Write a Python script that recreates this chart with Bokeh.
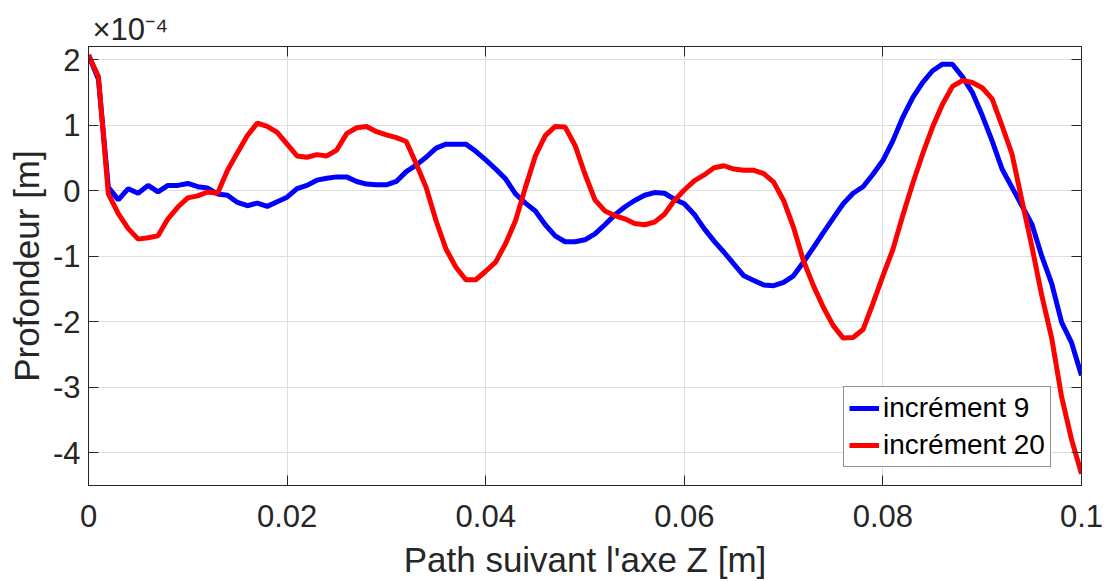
from bokeh.plotting import figure
from bokeh.models import Range1d, LinearAxis, Legend, LegendItem, Title, FixedTicker
from bokeh.embed import file_html
from bokeh.resources import INLINE

# ---- data (y values in units of 1e-4 m) ----
z = [0.000, 0.001, 0.002, 0.003, 0.004, 0.005, 0.006, 0.007, 0.008, 0.009,
     0.010, 0.011, 0.012, 0.013, 0.014, 0.015, 0.016, 0.017, 0.018, 0.019,
     0.020, 0.021, 0.022, 0.023, 0.024, 0.025, 0.026, 0.027, 0.028, 0.029,
     0.030, 0.031, 0.032, 0.033, 0.034, 0.035, 0.036, 0.037, 0.038, 0.039,
     0.040, 0.041, 0.042, 0.043, 0.044, 0.045, 0.046, 0.047, 0.048, 0.049,
     0.050, 0.051, 0.052, 0.053, 0.054, 0.055, 0.056, 0.057, 0.058, 0.059,
     0.060, 0.061, 0.062, 0.063, 0.064, 0.065, 0.066, 0.067, 0.068, 0.069,
     0.070, 0.071, 0.072, 0.073, 0.074, 0.075, 0.076, 0.077, 0.078, 0.079,
     0.080, 0.081, 0.082, 0.083, 0.084, 0.085, 0.086, 0.087, 0.088, 0.089,
     0.090, 0.091, 0.092, 0.093, 0.094, 0.095, 0.096, 0.097, 0.098, 0.099,
     0.100]

increment_9 = [2.07, 1.70, 0.05, -0.14, 0.03, -0.04, 0.08, -0.02, 0.08, 0.08,
               0.11, 0.06, 0.04, -0.05, -0.07, -0.18, -0.23, -0.19, -0.24, -0.17,
               -0.10, 0.03, 0.08, 0.16, 0.19, 0.21, 0.21, 0.14, 0.10, 0.09,
               0.09, 0.14, 0.29, 0.39, 0.51, 0.65, 0.71, 0.71, 0.71, 0.60,
               0.47, 0.33, 0.18, -0.05, -0.19, -0.31, -0.52, -0.69, -0.78, -0.78,
               -0.75, -0.66, -0.52, -0.37, -0.25, -0.15, -0.07, -0.03, -0.04, -0.13,
               -0.20, -0.36, -0.58, -0.77, -0.94, -1.12, -1.30, -1.37, -1.44, -1.45,
               -1.40, -1.30, -1.09, -0.87, -0.64, -0.42, -0.20, -0.04, 0.06, 0.25,
               0.46, 0.76, 1.12, 1.42, 1.65, 1.83, 1.93, 1.93, 1.74, 1.50,
               1.15, 0.76, 0.33, 0.05, -0.23, -0.51, -1.00, -1.42, -2.01, -2.32,
               -2.82]

increment_20 = [2.07, 1.74, -0.05, -0.35, -0.58, -0.74, -0.72, -0.69, -0.43, -0.25,
                -0.11, -0.08, -0.02, -0.04, 0.31, 0.58, 0.84, 1.03, 0.98, 0.89,
                0.71, 0.53, 0.51, 0.55, 0.53, 0.62, 0.87, 0.96, 0.98, 0.90,
                0.85, 0.81, 0.75, 0.41, 0.05, -0.46, -0.89, -1.17, -1.36, -1.36,
                -1.23, -1.09, -0.81, -0.46, 0.05, 0.53, 0.84, 0.98, 0.97, 0.69,
                0.25, -0.14, -0.31, -0.38, -0.43, -0.50, -0.52, -0.48, -0.36, -0.15,
                0.01, 0.15, 0.24, 0.35, 0.38, 0.33, 0.31, 0.31, 0.26, 0.13,
                -0.15, -0.56, -1.07, -1.45, -1.78, -2.06, -2.25, -2.24, -2.12, -1.72,
                -1.30, -0.90, -0.38, 0.11, 0.56, 0.97, 1.32, 1.59, 1.68, 1.65,
                1.57, 1.40, 0.99, 0.56, -0.15, -0.85, -1.60, -2.25, -3.15, -3.80,
                -4.32]

x_ticks = [0, 0.02, 0.04, 0.06, 0.08, 0.1]
x_tick_labels = ["0", "0.02", "0.04", "0.06", "0.08", "0.1"]
y_ticks = [-4, -3, -2, -1, 0, 1, 2]
y_tick_labels = ["-4", "-3", "-2", "-1", "0", "1", "2"]
series_names = ["incrément 9", "incrément 20"]
exponent_text = "×10⁻⁴"

FONT = "Liberation Sans"
AX = "#262626"

p = figure(width=1105, height=581, output_backend="svg", toolbar_location=None,
           x_range=Range1d(0, 0.1), y_range=Range1d(-4.5, 2.2),
           min_border_left=88, min_border_right=24, min_border_top=46, min_border_bottom=96)
p.background_fill_color = "white"
p.border_fill_color = "white"
p.outline_line_color = AX
p.outline_line_width = 1

r9 = p.line(z, increment_9, line_color="#0000ff", line_width=5)
r20 = p.line(z, increment_20, line_color="#ff0000", line_width=5)

# axes
xa = p.xaxis[0]
xa.ticker = FixedTicker(ticks=x_ticks)
xa.major_label_overrides = {t: l for t, l in zip(x_ticks, x_tick_labels)}
xa.axis_label = "Path suivant l'axe Z [m]"
ya = p.yaxis[0]
ya.ticker = FixedTicker(ticks=y_ticks)
ya.major_label_overrides = {t: l for t, l in zip(y_ticks, y_tick_labels)}
ya.axis_label = "Profondeur [m]"

for ax in (xa, ya):
    ax.axis_line_color = AX
    ax.major_tick_line_color = AX
    ax.major_tick_in = 10
    ax.major_tick_out = 0
    ax.minor_tick_line_color = None
    ax.major_label_text_font = FONT
    ax.major_label_text_font_size = "31px"
    ax.major_label_text_color = AX
    ax.axis_label_text_font = FONT
    ax.axis_label_text_font_size = "35px"
    ax.axis_label_text_font_style = "normal"
    ax.axis_label_text_color = AX
xa.major_label_standoff = 19
xa.axis_label_standoff = 10
ya.major_label_standoff = 8
ya.axis_label_standoff = 4

top = LinearAxis(ticker=FixedTicker(ticks=x_ticks))
right = LinearAxis(ticker=FixedTicker(ticks=y_ticks))
for ax in (top, right):
    ax.axis_line_color = AX
    ax.major_tick_line_color = AX
    ax.major_tick_in = 10
    ax.major_tick_out = 0
    ax.minor_tick_line_color = None
    ax.major_label_text_font_size = "1px"
    ax.major_label_text_color = None
    ax.major_label_standoff = 0
p.add_layout(top, "above")
p.add_layout(right, "right")

p.xgrid.ticker = FixedTicker(ticks=x_ticks)
p.ygrid.ticker = FixedTicker(ticks=y_ticks)
p.grid.grid_line_color = "#dedede"
p.grid.grid_line_width = 1

# exponent marker (MATLAB-style) as the title
p.title = Title(text=exponent_text, align="left", offset=4, standoff=0,
                text_font=FONT, text_font_size="31px", text_font_style="normal",
                text_color=AX)

legend = Legend(items=[LegendItem(label=series_names[0], renderers=[r9]),
                       LegendItem(label=series_names[1], renderers=[r20])],
                location=(755, 18))
legend.label_text_font = FONT
legend.label_text_font_size = "28px"
legend.label_text_color = "black"
legend.border_line_color = AX
legend.border_line_width = 1
legend.background_fill_color = "white"
legend.background_fill_alpha = 1
legend.padding = 5
legend.spacing = 5
legend.glyph_width = 30
legend.glyph_height = 30
legend.label_height = 30
legend.label_standoff = 4
legend.margin = 0
p.add_layout(legend, "center")

open("out.html", "w").write(file_html(p, INLINE))
